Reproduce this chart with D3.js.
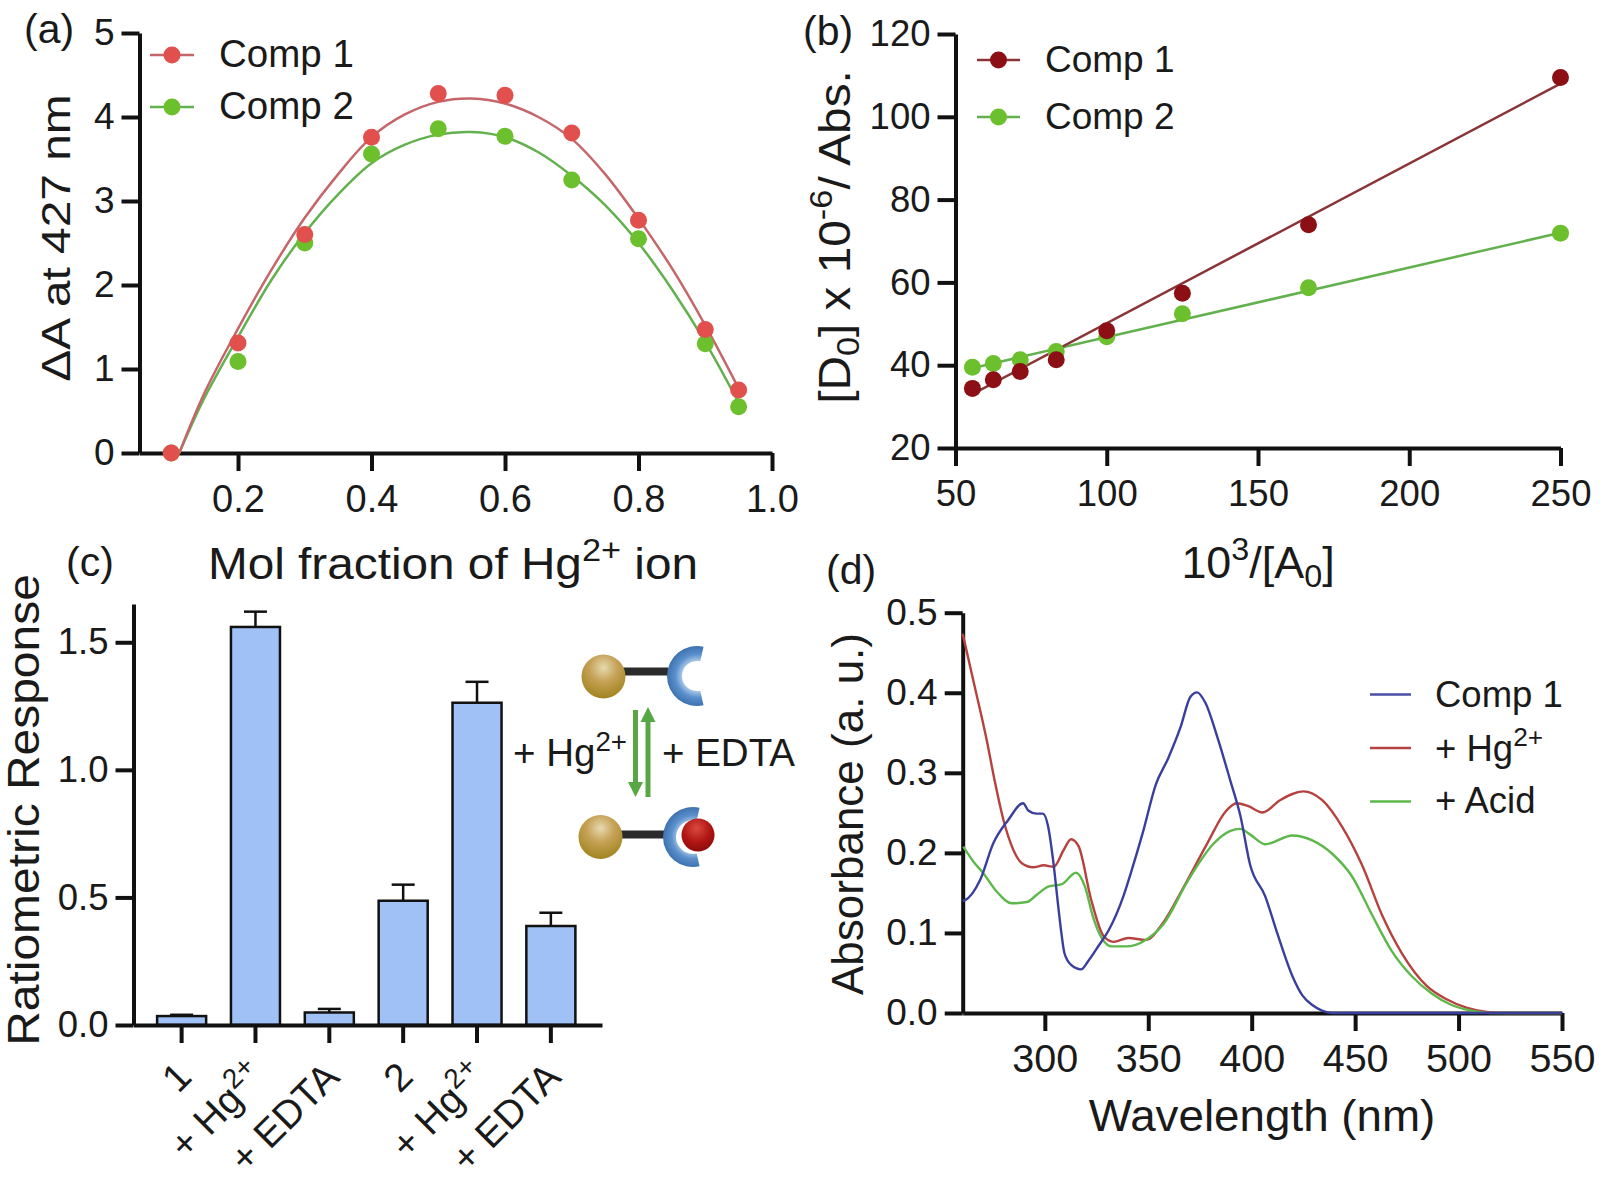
<!DOCTYPE html>
<html lang="en">

<head>
  <meta charset="utf-8">
  <title>Comp 1 and Comp 2 with Hg2+</title>
  <script src="https://d3js.org/d3.v7.min.js"></script>
  <style>
    html, body { margin: 0; padding: 0; background: #fff; }
    svg { display: block; }
    text { font-family: "Liberation Sans", Arial, sans-serif; fill: #1a1a1a; }
    .axis path, .axis line { stroke: #111; stroke-width: 4; }
    .axis text { font-family: "Liberation Sans", Arial, sans-serif; fill: #1a1a1a; }
  </style>
</head>

<body>
  <div id="chart"></div>

  <script type="text/javascript">
    "use strict"

    // (a) job plot
    var fraction = [0.1, 0.2, 0.3, 0.4, 0.5, 0.6, 0.7, 0.8, 0.9, 0.95];
    var aComp1 = [0, 1.31, 2.6, 3.76, 4.28, 4.26, 3.81, 2.77, 1.47, 0.75];
    var aComp2 = [0, 1.09, 2.5, 3.56, 3.86, 3.77, 3.25, 2.55, 1.3, 0.55];
    var fitFraction = [0.112, 0.15, 0.2, 0.25, 0.3, 0.35, 0.4, 0.45, 0.5, 0.55, 0.6, 0.65, 0.7, 0.75, 0.8, 0.85, 0.9, 0.95];
    var fitComp1 = [0, 0.72, 1.48, 2.18, 2.8, 3.32, 3.76, 4.03, 4.18, 4.22, 4.16, 4.0, 3.74, 3.32, 2.79, 2.2, 1.52, 0.77];
    var fitComp2 = [0, 0.66, 1.38, 2.06, 2.62, 3.08, 3.45, 3.67, 3.79, 3.82, 3.76, 3.58, 3.3, 2.95, 2.5, 1.95, 1.32, 0.6];

    // (b) Benesi-Hildebrand
    var inverseA = [55.6, 62.5, 71.4, 83.3, 100, 125, 166.7, 250];
    var bComp1 = [34.4, 36.5, 38.5, 41.3, 48.3, 57.4, 73.9, 109.5];
    var bComp2 = [39.5, 40.4, 41.3, 43.3, 46.9, 52.4, 58.7, 71.9];
    var bFitX = [55.6, 250];
    var bFitComp1 = [33, 108];
    var bFitComp2 = [39.3, 72];

    // (c) bars
    var barNames = ["1", "+ Hg", "+ EDTA", "2", "+ Hg", "+ EDTA"];
    var barSups = ["", "2+", "", "", "2+", ""];
    var barValues = [0.035, 1.56, 0.049, 0.487, 1.263, 0.388];
    var barErrTops = [0.04, 1.62, 0.063, 0.55, 1.345, 0.44];

    // (d) spectra
    var blueNm = [260.3, 261.5, 268.7, 275.1, 282.3, 289.5, 292, 296, 299, 301.6, 304, 306.5, 308, 309.5, 312.7, 317.5, 321, 326, 330.8, 338, 341.6, 347.6, 353.6, 359.6, 365.6, 370.4, 373.6, 377.6, 383.7, 389.7, 394.5, 399.3, 406.5, 412.5, 419.7, 424.5, 429.3, 434, 439, 550];
    var blueAbs = [0.14, 0.141, 0.166, 0.212, 0.241, 0.262, 0.253, 0.249, 0.249, 0.233, 0.191, 0.133, 0.1, 0.0746, 0.06, 0.0545, 0.065, 0.084, 0.103, 0.146, 0.175, 0.2275, 0.285, 0.318, 0.357, 0.395, 0.4005, 0.3875, 0.342, 0.29, 0.2467, 0.1845, 0.146, 0.0985, 0.046, 0.022, 0.01, 0.003, 0, 0];
    var redNm = [260.3, 265.9, 271.9, 276, 280, 284.8, 288.9, 294.3, 299.5, 304.3, 309.1, 312.7, 316.3, 322.4, 328.4, 333.2, 340.4, 348.8, 357.2, 366.8, 378.8, 387.3, 392.8, 398.1, 405.3, 413.7, 425, 434.1, 443.8, 453.4, 463, 472.6, 484.6, 494.2, 503.8, 513.5, 523, 550];
    var redAbs = [0.4737, 0.41, 0.341, 0.287, 0.241, 0.2036, 0.187, 0.182, 0.1845, 0.1826, 0.2036, 0.217, 0.2084, 0.1415, 0.0961, 0.0889, 0.0937, 0.0913, 0.1128, 0.1558, 0.2132, 0.2514, 0.2619, 0.2586, 0.2505, 0.2658, 0.2768, 0.2658, 0.2323, 0.1845, 0.1224, 0.0746, 0.0339, 0.0172, 0.0067, 0.0014, 0, 0];
    var greenNm = [260.6, 265.5, 270.2, 276.8, 284, 291.3, 296, 301.6, 308.3, 315.1, 319.4, 323.3, 327.5, 332, 339.2, 348.8, 357.2, 369.2, 381.3, 389.7, 394.5, 399.3, 406.5, 419.7, 429.3, 438.9, 448.6, 458.2, 467.8, 477.4, 487, 496.6, 506.3, 515.9, 550];
    var greenAbs = [0.2077, 0.189, 0.175, 0.1515, 0.137, 0.1386, 0.1474, 0.1578, 0.161, 0.1752, 0.1578, 0.12, 0.0937, 0.0832, 0.0832, 0.0913, 0.1104, 0.1654, 0.2108, 0.2275, 0.23, 0.2228, 0.2108, 0.2218, 0.2156, 0.1989, 0.1702, 0.1224, 0.077, 0.0459, 0.0244, 0.01, 0.0029, 0, 0];

    var svg = d3.select('#chart').append('svg')
        .attr('width', 1607)
        .attr('height', 1179);

    var defs = svg.append('defs');

    var gold = defs.append('radialGradient').attr('id', 'gold').attr('cx', '50%').attr('cy', '30%').attr('r', '70%');
    gold.append('stop').attr('offset', '0%').attr('stop-color', '#e6dab0');
    gold.append('stop').attr('offset', '45%').attr('stop-color', '#c6a257');
    gold.append('stop').attr('offset', '100%').attr('stop-color', '#a1841f');

    var ruby = defs.append('radialGradient').attr('id', 'ruby').attr('cx', '45%').attr('cy', '30%').attr('r', '70%');
    ruby.append('stop').attr('offset', '0%').attr('stop-color', '#d84a40');
    ruby.append('stop').attr('offset', '60%').attr('stop-color', '#b01512');
    ruby.append('stop').attr('offset', '100%').attr('stop-color', '#8e0c0c');

    var azul = defs.append('radialGradient').attr('id', 'azul').attr('gradientUnits', 'userSpaceOnUse')
        .attr('cx', 0).attr('cy', 0).attr('r', 30);
    azul.append('stop').attr('offset', '50%').attr('stop-color', '#a9c8ea');
    azul.append('stop').attr('offset', '72%').attr('stop-color', '#5b90cc');
    azul.append('stop').attr('offset', '100%').attr('stop-color', '#3f72b0');

    // series as [{x, y}]
    function pares(xs, ys) {
      return xs.map((x, i) => ({x: x, y: ys[i]}));
    }

    // text with super/subscript parts: [["Hg"], ["2+", "sup"], [" ion"]]
    function escreve(sel, partes) {
      var shift = 0;
      partes.forEach(function (p) {
        var alvo = p[1] === 'sup' ? -0.4 : p[1] === 'sub' ? 0.2 : 0;
        var size = p[1] ? 0.72 : 1;
        var base = parseFloat(sel.attr('font-size'));
        sel.append('tspan')
          .attr('dy', ((alvo - shift) * base) + 'px')
          .attr('font-size', (base * size) + 'px')
          .text(p[0]);
        shift = alvo;
      });
      return sel;
    }

    // the original lettering runs a bit wide, esticar stretches along the text
    function rotulo(x, y, size, partes, anchor, esticar) {
      return escreve(svg.append('text')
        .attr('transform', 'translate(' + x + ',' + y + ') scale(' + (esticar || 1) + ',1)')
        .attr('font-size', size)
        .attr('text-anchor', anchor || 'start'), partes);
    }

    function rotuloY(x, yMid, size, partes, esticar) {
      return escreve(svg.append('text')
        .attr('transform', 'translate(' + x + ',' + yMid + ') rotate(-90) scale(' + (esticar || 1) + ',1)')
        .attr('font-size', size)
        .attr('text-anchor', 'middle'), partes);
    }

    function eixos(xScale, yScale, yPos, xPos, xTicks, yTicks, xFmt, yFmt, padX, fonteX, fonteY) {
      svg.append('g').attr('class', 'axis')
        .attr('transform', 'translate(0,' + yPos + ')')
        .call(d3.axisBottom(xScale).tickValues(xTicks).tickFormat(xFmt).tickSize(18).tickSizeOuter(0).tickPadding(padX))
        .selectAll('text').style('font-size', fonteX + 'px');
      svg.append('g').attr('class', 'axis')
        .attr('transform', 'translate(' + xPos + ',0)')
        .call(d3.axisLeft(yScale).tickValues(yTicks).tickFormat(yFmt).tickSize(18).tickSizeOuter(0).tickPadding(7))
        .selectAll('text').style('font-size', fonteY + 'px');
    }

    function legenda(x1, x2, y, cor, corPonto) {
      svg.append('line').attr('x1', x1).attr('x2', x2).attr('y1', y).attr('y2', y)
        .attr('stroke', cor).attr('stroke-width', 2.5);
      if (corPonto) {
        svg.append('circle').attr('cx', (x1 + x2) / 2).attr('cy', y).attr('r', 8.5).attr('fill', corPonto);
      }
    }

    /*
     * (a)
     */
    var xA = d3.scaleLinear().domain([0.0524, 1]).range([139.5, 772]);
    var yA = d3.scaleLinear().domain([0, 5]).range([453, 33]);
    eixos(xA, yA, 453, 139.5, [0.2, 0.4, 0.6, 0.8, 1.0], [0, 1, 2, 3, 4, 5], d3.format('.1f'), d3.format('d'), 14, 38, 37);

    var linhaA = d3.line().x(d => xA(d.x)).y(d => yA(d.y)).curve(d3.curveCatmullRom);
    svg.append('path').datum(pares(fitFraction, fitComp2)).attr('d', linhaA)
      .attr('fill', 'none').attr('stroke', '#63b04e').attr('stroke-width', 2.5);
    svg.append('path').datum(pares(fitFraction, fitComp1)).attr('d', linhaA)
      .attr('fill', 'none').attr('stroke', '#c4666a').attr('stroke-width', 2.5);
    svg.selectAll('.ptA2').data(pares(fraction, aComp2)).enter().append('circle')
      .attr('cx', d => xA(d.x)).attr('cy', d => yA(d.y)).attr('r', 8.5).attr('fill', '#6cbf2d');
    svg.selectAll('.ptA1').data(pares(fraction, aComp1)).enter().append('circle')
      .attr('cx', d => xA(d.x)).attr('cy', d => yA(d.y)).attr('r', 8.5).attr('fill', '#e2504e');

    legenda(150, 194, 55, '#c4666a', '#e2504e');
    legenda(150, 194, 107, '#63b04e', '#6cbf2d');
    rotulo(219, 67, 38.5, [['Comp 1']]);
    rotulo(219, 119, 38.5, [['Comp 2']]);
    rotulo(24, 43, 41, [['(a)']]);
    rotuloY(70, 238, 41, [['\u0394A at 427 nm']], 1.167);
    rotulo(453, 579, 44, [['Mol fraction of Hg'], ['2+', 'sup'], [' ion']], 'middle', 1.085);

    /*
     * (b)
     */
    var xB = d3.scaleLinear().domain([50, 250]).range([955.5, 1560.5]);
    var yB = d3.scaleLinear().domain([20, 120]).range([448, 34]);
    eixos(xB, yB, 448, 955.5, [50, 100, 150, 200, 250], [20, 40, 60, 80, 100, 120], d3.format('d'), d3.format('d'), 14, 36.5, 36.5);

    var linhaB = d3.line().x(d => xB(d.x)).y(d => yB(d.y));
    svg.append('path').datum(pares(bFitX, bFitComp2)).attr('d', linhaB)
      .attr('fill', 'none').attr('stroke', '#63b04e').attr('stroke-width', 2.5);
    svg.append('path').datum(pares(bFitX, bFitComp1)).attr('d', linhaB)
      .attr('fill', 'none').attr('stroke', '#8a3438').attr('stroke-width', 2.5);
    svg.selectAll('.ptB2').data(pares(inverseA, bComp2)).enter().append('circle')
      .attr('cx', d => xB(d.x)).attr('cy', d => yB(d.y)).attr('r', 8.5).attr('fill', '#6cbf2d');
    svg.selectAll('.ptB1').data(pares(inverseA, bComp1)).enter().append('circle')
      .attr('cx', d => xB(d.x)).attr('cy', d => yB(d.y)).attr('r', 8.5).attr('fill', '#8b0f14');

    legenda(977, 1020, 60, '#8a3438', '#8b0f14');
    legenda(977, 1020, 117, '#63b04e', '#6cbf2d');
    rotulo(1045, 72, 37, [['Comp 1']]);
    rotulo(1045, 129, 37, [['Comp 2']]);
    rotulo(803, 45, 41, [['(b)']]);
    rotuloY(850, 237, 44, [['[D'], ['0', 'sub'], ['] x 10'], ['-6', 'sup'], ['/ Abs.']], 1.085);
    rotulo(1258, 578, 44, [['10'], ['3', 'sup'], ['/[A'], ['0', 'sub'], [']']], 'middle', 1.02);

    /*
     * (c)
     */
    var xC = d3.scaleBand().domain(d3.range(barNames.length)).range([133.5, 602])
      .paddingInner(0.336).paddingOuter(0.34).align(0.47);
    var yC = d3.scaleLinear().domain([0, 1.65]).range([1025, 604]);

    var errC = svg.append('g').attr('stroke', '#111').attr('stroke-width', 2.5);
    barValues.forEach(function (v, i) {
      var cx = xC(i) + xC.bandwidth() / 2;
      errC.append('line').attr('x1', cx).attr('x2', cx).attr('y1', yC(v)).attr('y2', yC(barErrTops[i]));
      errC.append('line').attr('x1', cx - 11.5).attr('x2', cx + 11.5).attr('y1', yC(barErrTops[i])).attr('y2', yC(barErrTops[i]));
    });
    svg.selectAll('.barra').data(barValues).enter().append('rect')
      .attr('x', (d, i) => xC(i))
      .attr('y', d => yC(d))
      .attr('width', xC.bandwidth())
      .attr('height', d => yC(0) - yC(d))
      .attr('fill', '#a0c1f5').attr('stroke', '#111').attr('stroke-width', 2.5);

    svg.append('g').attr('class', 'axis')
      .attr('transform', 'translate(0,1025)')
      .call(d3.axisBottom(xC).tickFormat('').tickSize(18).tickSizeOuter(0));
    svg.append('g').attr('class', 'axis')
      .attr('transform', 'translate(133.5,0)')
      .call(d3.axisLeft(yC).tickValues([0, 0.5, 1.0, 1.5]).tickFormat(d3.format('.1f')).tickSize(18).tickSizeOuter(0).tickPadding(7))
      .selectAll('text').style('font-size', '36.5px');

    barNames.forEach(function (nome, i) {
      var cx = xC(i) + xC.bandwidth() / 2;
      var partes = [[nome]];
      if (barSups[i]) partes.push([barSups[i], 'sup']);
      escreve(svg.append('text')
        .attr('transform', 'translate(' + (cx + 12) + ',1079) rotate(-45)')
        .attr('font-size', 39)
        .attr('text-anchor', 'end'), partes);
    });

    rotulo(66, 576, 41, [['(c)']]);
    rotuloY(39, 810, 44, [['Ratiometric Response']], 1.09);

    // small scheme beside the bars
    function esquema(bx, by, rx, ry, cx, cy, comMetal) {
      svg.append('rect').attr('x', bx + 18).attr('y', ry - 4).attr('width', rx - bx - 18).attr('height', 8).attr('fill', '#2b2b2b');
      svg.append('circle').attr('cx', bx).attr('cy', by).attr('r', 22).attr('fill', 'url(#gold)');
      svg.append('path')
        .attr('transform', 'translate(' + cx + ',' + cy + ')')
        .attr('d', d3.arc().innerRadius(comMetal ? 17 : 15).outerRadius(30).startAngle(0.93 * Math.PI).endAngle(2.07 * Math.PI)())
        .attr('fill', 'url(#azul)');
      if (comMetal) {
        svg.append('circle').attr('cx', cx + 5).attr('cy', cy - 2).attr('r', 16.5).attr('fill', 'url(#ruby)');
      }
    }
    esquema(603.5, 676.5, 668, 671.5, 697, 676, false);
    esquema(600.5, 837, 665, 834.5, 693, 837, true);

    function seta(x, y1, y2) {
      var dir = y2 > y1 ? 1 : -1;
      svg.append('line').attr('x1', x).attr('x2', x).attr('y1', y1).attr('y2', y2 - dir * 10)
        .attr('stroke', '#57a845').attr('stroke-width', 5);
      svg.append('path')
        .attr('d', 'M' + (x - 7.5) + ',' + (y2 - dir * 15) + 'L' + (x + 7.5) + ',' + (y2 - dir * 15) + 'L' + x + ',' + y2 + 'Z')
        .attr('fill', '#57a845');
    }
    rotulo(513, 766, 38.5, [['+ Hg'], ['2+', 'sup']]);
    rotulo(662, 766, 38.5, [['+ EDTA']]);
    seta(635.5, 710, 797);
    seta(648, 797, 707);

    /*
     * (d)
     */
    var xD = d3.scaleLinear().domain([260.3, 550]).range([962.7, 1562]);
    var yD = d3.scaleLinear().domain([0, 0.5]).range([1013, 612.7]);
    eixos(xD, yD, 1013, 962.7, [300, 350, 400, 450, 500, 550], [0, 0.1, 0.2, 0.3, 0.4, 0.5], d3.format('d'), d3.format('.1f'), 13, 39.5, 37);

    var linhaD = d3.line().x(d => xD(d.x)).y(d => yD(d.y)).curve(d3.curveMonotoneX);
    svg.append('path').datum(pares(redNm, redAbs)).attr('d', linhaD)
      .attr('fill', 'none').attr('stroke', '#b5423f').attr('stroke-width', 2.4);
    svg.append('path').datum(pares(greenNm, greenAbs)).attr('d', linhaD)
      .attr('fill', 'none').attr('stroke', '#5db84a').attr('stroke-width', 2.4);
    svg.append('path').datum(pares(blueNm, blueAbs)).attr('d', linhaD)
      .attr('fill', 'none').attr('stroke', '#3a3f9e').attr('stroke-width', 2.4);

    legenda(1370, 1411, 694.5, '#4a4fa8');
    legenda(1370, 1411, 748, '#b5423f');
    legenda(1370, 1411, 801.5, '#5db84a');
    rotulo(1435, 707, 36.5, [['Comp 1']]);
    rotulo(1435, 761, 36.5, [['+ Hg'], ['2+', 'sup']]);
    rotulo(1435, 813, 36.5, [['+ Acid']]);
    rotulo(826, 584, 41, [['(d)']]);
    rotuloY(863, 814, 44, [['Absorbance (a. u.)']]);
    rotulo(1262, 1131, 44, [['Wavelength (nm)']], 'middle', 1.04);
  </script>
</body>

</html>
